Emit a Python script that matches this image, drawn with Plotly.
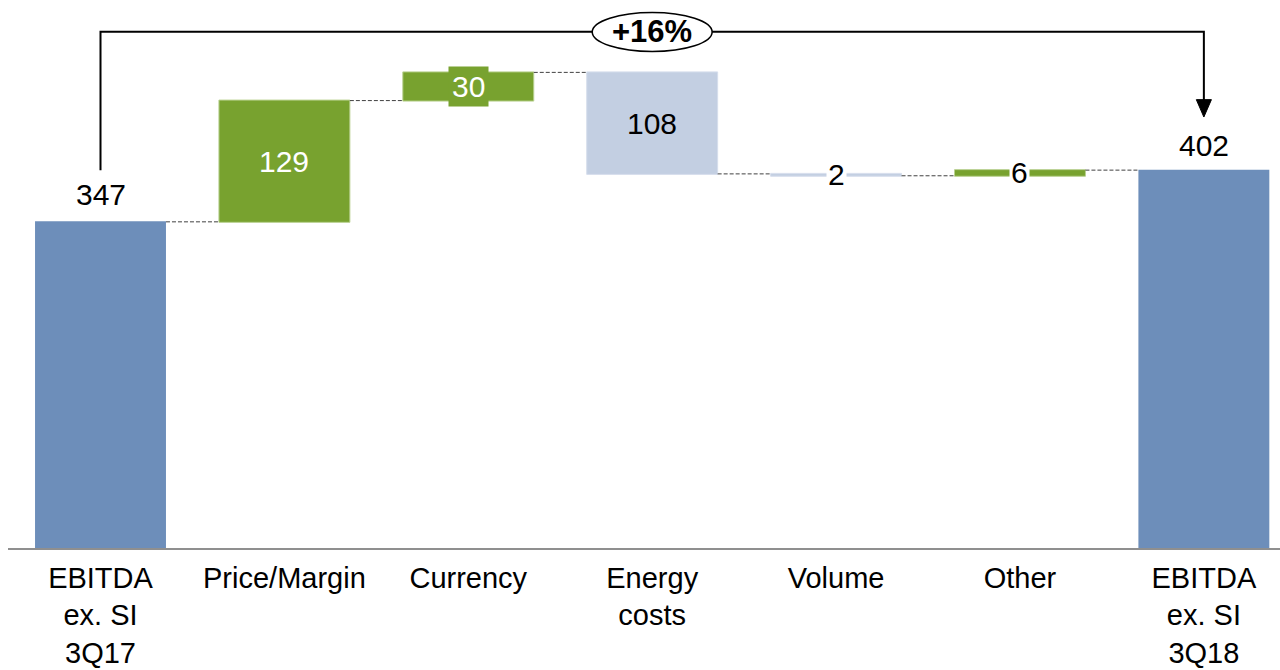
import plotly.graph_objects as go

# EBITDA bridge data (EUR m)
categories = ["EBITDA<br>ex. SI<br>3Q17", "Price/Margin", "Currency", "Energy<br>costs",
              "Volume", "Other", "EBITDA<br>ex. SI<br>3Q18"]
start_value = 347
changes = [129, 30, -108, -2, 6]

measures = ["absolute"] + ["relative"] * len(changes) + ["total"]
values = [start_value] + changes + [0]

BLUE = "#6D8EBA"
GREEN = "#78A22F"
LIGHT = "#C3CFE2"
FONT = "Liberation Sans, Arial, sans-serif"
FS = 30

xpos = list(range(len(categories)))

fig = go.Figure(go.Waterfall(
    x=xpos,
    measure=measures,
    y=values,
    width=0.712,
    increasing=dict(marker=dict(color=GREEN, line=dict(color="#B9D190", width=1))),
    decreasing=dict(marker=dict(color=LIGHT, line=dict(color="#D6DEEC", width=1))),
    totals=dict(marker=dict(color=BLUE, line=dict(color=BLUE, width=0))),
    connector=dict(line=dict(color="#404040", width=1, dash="4px,2px")),
    textinfo="none",
    hoverinfo="skip",
))

# value labels, placed from the running totals
end_value = start_value + sum(changes)
annotations = []
annotations.append(dict(x=0, y=start_value, text=str(start_value), showarrow=False,
                        yanchor="middle", yshift=27, font=dict(size=FS, color="black")))
annotations.append(dict(x=len(categories) - 1, y=end_value, text=str(end_value), showarrow=False,
                        yanchor="middle", yshift=25, font=dict(size=FS, color="black")))

running = start_value
for i, d in enumerate(changes, start=1):
    mid = running + d / 2
    label = str(abs(d))
    if abs(d) >= 60:
        color = "white" if d > 0 else "black"
        annotations.append(dict(x=i, y=mid, text=label, showarrow=False,
                                font=dict(size=FS, color=color)))
    elif d > 0 and abs(d) >= 20:
        annotations.append(dict(x=i, y=mid, text=label, showarrow=False,
                                font=dict(size=FS, color="white"),
                                bgcolor=GREEN, borderpad=3))
    else:
        annotations.append(dict(x=i, y=mid, text=label, showarrow=False,
                                font=dict(size=FS, color="black"),
                                bgcolor="white", borderpad=1))
    running += d

# growth bubble
growth = (end_value / start_value - 1) * 100
annotations.append(dict(x=3, y=549, text="<b>%+.0f%%</b>" % growth, showarrow=False,
                        font=dict(size=31, color="black")))

shapes = [
    # bracket from start bar to end bar
    dict(type="path", xref="x", yref="y",
         path="M 0,402 L 0,549.3 L 6,549.3 L 6,476",
         line=dict(color="black", width=2)),
    # arrow head
    dict(type="path", xref="x", yref="y",
         path="M 5.959,477 L 6.041,477 L 6,458.5 Z",
         fillcolor="black", line=dict(color="black", width=1)),
    # ellipse around the growth figure
    dict(type="circle", xref="x", yref="y",
         x0=3 - 0.326, x1=3 + 0.326, y0=549 - 20.7, y1=549 + 20.7,
         fillcolor="white", line=dict(color="black", width=1.5)),
]

fig.update_layout(
    width=1280, height=670,
    margin=dict(l=8, r=0, t=0, b=122),
    paper_bgcolor="white", plot_bgcolor="white",
    showlegend=False,
    font=dict(family=FONT, size=FS, color="black"),
    annotations=annotations,
    shapes=shapes,
    xaxis=dict(
        range=[-0.503, 6.414],
        tickmode="array", tickvals=xpos, ticktext=categories,
        showgrid=False, zeroline=False, automargin=False,
        showline=True, linecolor="#8F8F8F", linewidth=1.5,
        ticks="", ticklabelstandoff=3,
        tickfont=dict(size=29, color="black", family=FONT),
    ),
    yaxis=dict(range=[0, 583], visible=False, showgrid=False, zeroline=False,
               automargin=False),
)

fig.write_html("out.html")
